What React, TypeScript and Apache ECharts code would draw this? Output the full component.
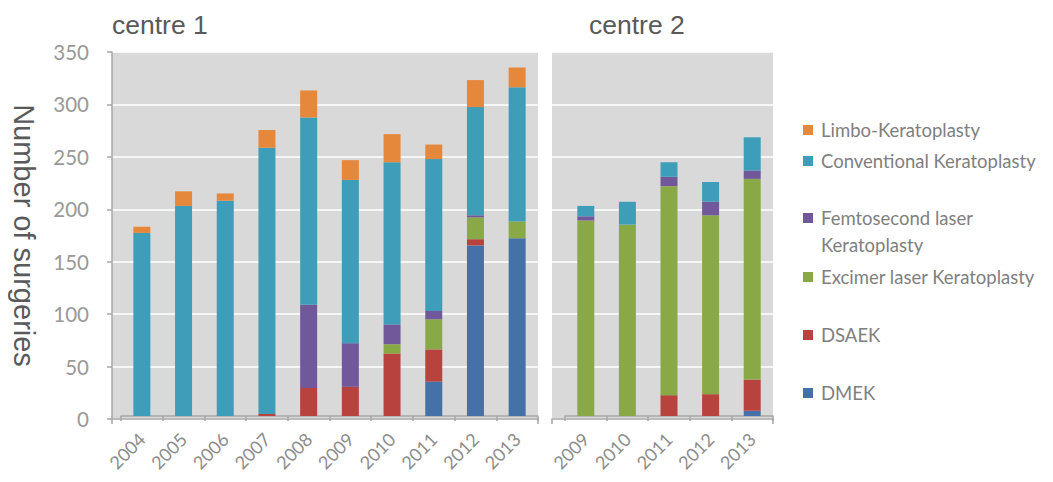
import React, { useEffect, useRef } from "react";
import * as echarts from "echarts";

// Surgery counts per year and technique, stacked bottom to top
const years1 = ["2004", "2005", "2006", "2007", "2008", "2009", "2010", "2011", "2012", "2013"];
const years2 = ["2009", "2010", "2011", "2012", "2013"];

const seriesNames = [
  "DMEK",
  "DSAEK",
  "Excimer laser Keratoplasty",
  "Femtosecond laser Keratoplasty",
  "Conventional Keratoplasty",
  "Limbo-Keratoplasty",
];
const seriesColors = ["#4472A8", "#B8423E", "#89A947", "#71589B", "#3E9DB8", "#E5883C"];

// centre 1
const dmek1 = [0, 0, 0, 0, 0, 0, 0, 33, 164, 171];
const dsaek1 = [0, 0, 0, 2, 27, 28, 60, 31, 6, 0];
const excimer1 = [0, 0, 0, 0, 0, 0, 9, 29, 21, 16];
const femto1 = [0, 0, 0, 0, 80, 42, 19, 8, 2, 0];
const conventional1 = [176, 202, 207, 256, 180, 157, 156, 146, 104, 129];
const limbo1 = [6, 14, 7, 17, 26, 19, 27, 14, 26, 19];

// centre 2
const dmek2 = [0, 0, 0, 0, 5];
const dsaek2 = [0, 0, 20, 21, 30];
const excimer2 = [188, 184, 201, 172, 193];
const femto2 = [4, 0, 9, 13, 8];
const conventional2 = [10, 22, 14, 19, 32];
const limbo2 = [0, 0, 0, 0, 0];

const yTicks = { min: 0, max: 350, interval: 50 };

// legend rows: label lines and vertical centre of the first line (chart coordinates)
const legendRows = [
  { name: "Limbo-Keratoplasty", lines: ["Limbo-Keratoplasty"], y: 122 },
  { name: "Conventional Keratoplasty", lines: ["Conventional Keratoplasty"], y: 153 },
  { name: "Femtosecond laser Keratoplasty", lines: ["Femtosecond laser", "Keratoplasty"], y: 210 },
  { name: "Excimer laser Keratoplasty", lines: ["Excimer laser Keratoplasty"], y: 269 },
  { name: "DSAEK", lines: ["DSAEK"], y: 327 },
  { name: "DMEK", lines: ["DMEK"], y: 385 },
];

const labelFont = "Lato, 'Noto Sans', sans-serif";
const titleFont = "'Liberation Sans', Arial, sans-serif";
const TOP = 44;
const HEIGHT = 367;
const AXIS_GREY = "#A6A6A6";

export default function App() {
  const ref = useRef<HTMLDivElement>(null);

  useEffect(() => {
    if (!ref.current) return;
    const chart = echarts.init(ref.current, undefined, { renderer: "svg" });

    const centre1 = [dmek1, dsaek1, excimer1, femto1, conventional1, limbo1];
    const centre2 = [dmek2, dsaek2, excimer2, femto2, conventional2, limbo2];

    const bars = (data: number[][], axisIndex: number, stack: string) =>
      data.map((vals, i) => ({
        type: "bar",
        name: seriesNames[i],
        stack,
        xAxisIndex: axisIndex,
        yAxisIndex: axisIndex,
        barWidth: 17,
        data: vals,
        itemStyle: { color: seriesColors[i] },
        z: 3,
      }));

    // full-width panel axis: draws the base line with end ticks
    const panelValueX = (gridIndex: number) => ({
      type: "value",
      gridIndex,
      min: 0,
      max: 1,
      interval: 1,
      axisLine: { show: true, lineStyle: { color: AXIS_GREY, width: 1.5 } },
      axisTick: { show: true, length: 5, lineStyle: { color: AXIS_GREY, width: 1.5 } },
      axisLabel: { show: false },
      splitLine: { show: false },
    });

    const catX = (gridIndex: number, data: string[]) => ({
      type: "category",
      gridIndex,
      data,
      axisLine: { show: true, lineStyle: { color: AXIS_GREY, width: 1.5 } },
      axisTick: { show: true, length: 5, lineStyle: { color: AXIS_GREY, width: 1.5 } },
      axisLabel: {
        rotate: 45,
        margin: 20,
        color: "#8C8C8C",
        fontSize: 18,
        fontFamily: labelFont,
      },
    });

    const hiddenY = (gridIndex: number) => ({
      type: "value",
      gridIndex,
      ...yTicks,
      show: false,
      splitLine: { show: false },
    });

    const gridY = (gridIndex: number, labelled: boolean) => ({
      type: "value",
      gridIndex,
      ...yTicks,
      axisLine: { show: labelled, lineStyle: { color: AXIS_GREY, width: 1.5 } },
      axisTick: { show: labelled, length: 5, lineStyle: { color: AXIS_GREY, width: 1.5 } },
      axisLabel: {
        show: labelled,
        margin: 23,
        color: "#999999",
        fontSize: 20.5,
        fontFamily: labelFont,
      },
      splitLine: { show: true, lineStyle: { color: "#FFFFFF", width: 1.5 } },
      name: labelled ? "Number of surgeries" : "",
      nameLocation: "middle",
      nameRotate: -90,
      nameGap: 74,
      nameTextStyle: { color: "#595959", fontSize: 29, fontFamily: titleFont },
    });

    const legendGraphics: any[] = [];
    legendRows.forEach((row) => {
      const idx = seriesNames.indexOf(row.name);
      legendGraphics.push({
        type: "rect",
        shape: { x: 795, y: row.y - 5, width: 10, height: 10 },
        style: { fill: seriesColors[idx] },
      });
      row.lines.forEach((line, k) => {
        legendGraphics.push({
          type: "text",
          x: 813,
          y: row.y + k * 27,
          style: {
            text: line,
            fill: "#7F7F7F",
            font: `18.5px ${labelFont}`,
            verticalAlign: "middle",
            align: "left",
          },
        });
      });
    });

    const titleStyle = { fontSize: 26.5, fontWeight: "normal", color: "#595959", fontFamily: titleFont };

    chart.setOption({
      animation: false,
      backgroundColor: "#FFFFFF",
      title: [
        { text: "centre 1", left: 99, top: -2, textStyle: titleStyle },
        { text: "centre 2", left: 576, top: -2, textStyle: titleStyle },
      ],
      grid: [
        { left: 99, width: 431, top: TOP, height: HEIGHT, show: true, backgroundColor: "#D9D9D9", borderWidth: 0 },
        { left: 113, width: 417, top: TOP, height: HEIGHT },
        { left: 544, width: 221, top: TOP, height: HEIGHT, show: true, backgroundColor: "#D9D9D9", borderWidth: 0 },
        { left: 557, width: 208, top: TOP, height: HEIGHT },
      ],
      xAxis: [panelValueX(0), catX(1, years1), panelValueX(2), catX(3, years2)],
      yAxis: [gridY(0, true), hiddenY(1), gridY(2, false), hiddenY(3)],
      series: [...bars(centre1, 1, "c1"), ...bars(centre2, 3, "c2")],
      graphic: legendGraphics,
    });

    return () => chart.dispose();
  }, []);

  return <div ref={ref} style={{ width: 1037, height: 466 }} />;
}
